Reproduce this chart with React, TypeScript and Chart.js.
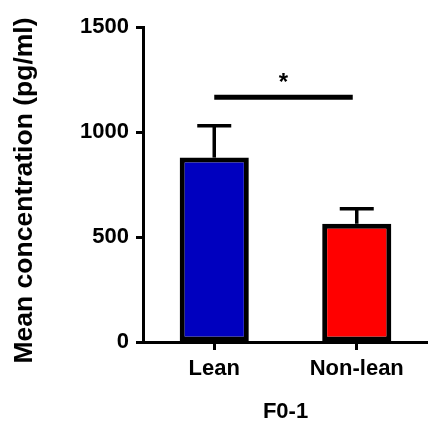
import React, { useEffect, useRef } from "react";
import { Chart, registerables } from "chart.js";

Chart.register(...registerables);

const categories = ["Lean", "Non-lean"];
const means = [878, 563];
const errorUpper = [1030, 635];
const barColors = ["#0000bf", "#ff0000"];
const yTicks = [0, 500, 1000, 1500];
const sigLevel = 1165;
const sigLabel = "*";
const yTitle = "Mean concentration (pg/ml)";
const xTitle = "F0-1";

const FONT = "'Liberation Sans', Arial, Helvetica, sans-serif";

const overlayPlugin = {
  id: "overlay",
  afterDatasetsDraw(chart: any) {
    const ctx = chart.ctx;
    const meta = chart.getDatasetMeta(0);
    const y = chart.scales.y;
    ctx.save();
    ctx.strokeStyle = "#000";
    ctx.fillStyle = "#000";
    meta.data.forEach((bar: any, i: number) => {
      const x = bar.x;
      const yTop = y.getPixelForValue(errorUpper[i]);
      const yBar = y.getPixelForValue(means[i]);
      ctx.lineWidth = 3.5;
      ctx.beginPath();
      ctx.moveTo(x, yBar);
      ctx.lineTo(x, yTop);
      ctx.stroke();
      ctx.beginPath();
      ctx.moveTo(x - 17, yTop);
      ctx.lineTo(x + 17, yTop);
      ctx.stroke();
    });
    const x0 = meta.data[0].x;
    const x1 = meta.data[1].x - 4;
    const ys = y.getPixelForValue(sigLevel);
    ctx.lineWidth = 5;
    ctx.beginPath();
    ctx.moveTo(x0, ys);
    ctx.lineTo(x1, ys);
    ctx.stroke();
    ctx.font = `bold 24px ${FONT}`;
    ctx.textAlign = "center";
    ctx.textBaseline = "middle";
    ctx.fillText(sigLabel, (x0 + x1) / 2, ys - 14);
    // y-axis title, centred slightly below the plot-area centre as in the reference
    const ca = chart.chartArea;
    ctx.translate(25, (ca.top + ca.bottom) / 2 + 6);
    ctx.rotate(-Math.PI / 2);
    ctx.font = `bold 26.5px ${FONT}`;
    ctx.fillText(yTitle, 0, 0);
    ctx.restore();
  },
};

export default function App() {
  const ref = useRef<HTMLCanvasElement | null>(null);
  useEffect(() => {
    if (!ref.current) return;
    const chart = new Chart(ref.current, {
      type: "bar",
      data: {
        labels: categories,
        datasets: [
          {
            data: means,
            backgroundColor: barColors,
            borderColor: "#000",
            borderWidth: 5,
            borderSkipped: false,
            barPercentage: 0.485,
            categoryPercentage: 1,
          },
        ],
      },
      options: {
        responsive: false,
        animation: false,
        layout: { padding: { top: 27, right: 0, left: 0, bottom: 0 } },
        plugins: {
          legend: { display: false },
          tooltip: { enabled: false },
        },
        scales: {
          x: {
            grid: {
              offset: false,
              drawOnChartArea: false,
              drawTicks: true,
              tickLength: 8,
              tickWidth: 3,
              color: "#000",
            },
            border: { display: true, width: 3, color: "#000" },
            ticks: {
              color: "#000",
              padding: 6,
              font: { family: FONT, size: 22, weight: "bold" },
            },
            title: {
              display: true,
              text: xTitle,
              color: "#000",
              padding: { top: 0, bottom: 0 },
              font: { family: FONT, size: 22, weight: "bold", lineHeight: 0.85 },
            },
            afterFit(scale: any) {
              scale.height = 79;
            },
          },
          y: {
            min: 0,
            max: 1500,
            afterBuildTicks(scale: any) {
              scale.ticks = yTicks.map((v) => ({ value: v }));
            },
            grid: {
              drawOnChartArea: false,
              drawTicks: true,
              tickLength: 7,
              tickWidth: 3,
              color: "#000",
            },
            border: { display: true, width: 3, color: "#000" },
            ticks: {
              color: "#000",
              padding: 7,
              font: { family: FONT, size: 22, weight: "bold" },
              callback: (v: any) => String(v),
            },
            title: { display: false, text: yTitle },
            afterFit(scale: any) {
              scale.width = 143;
            },
          },
        },
      },
      plugins: [overlayPlugin],
    });
    return () => chart.destroy();
  }, []);
  return (
    <div style={{ position: "absolute", left: 0, top: 0, width: 428, height: 421, background: "#fff" }}>
      <canvas ref={ref} width={428} height={421} />
    </div>
  );
}
